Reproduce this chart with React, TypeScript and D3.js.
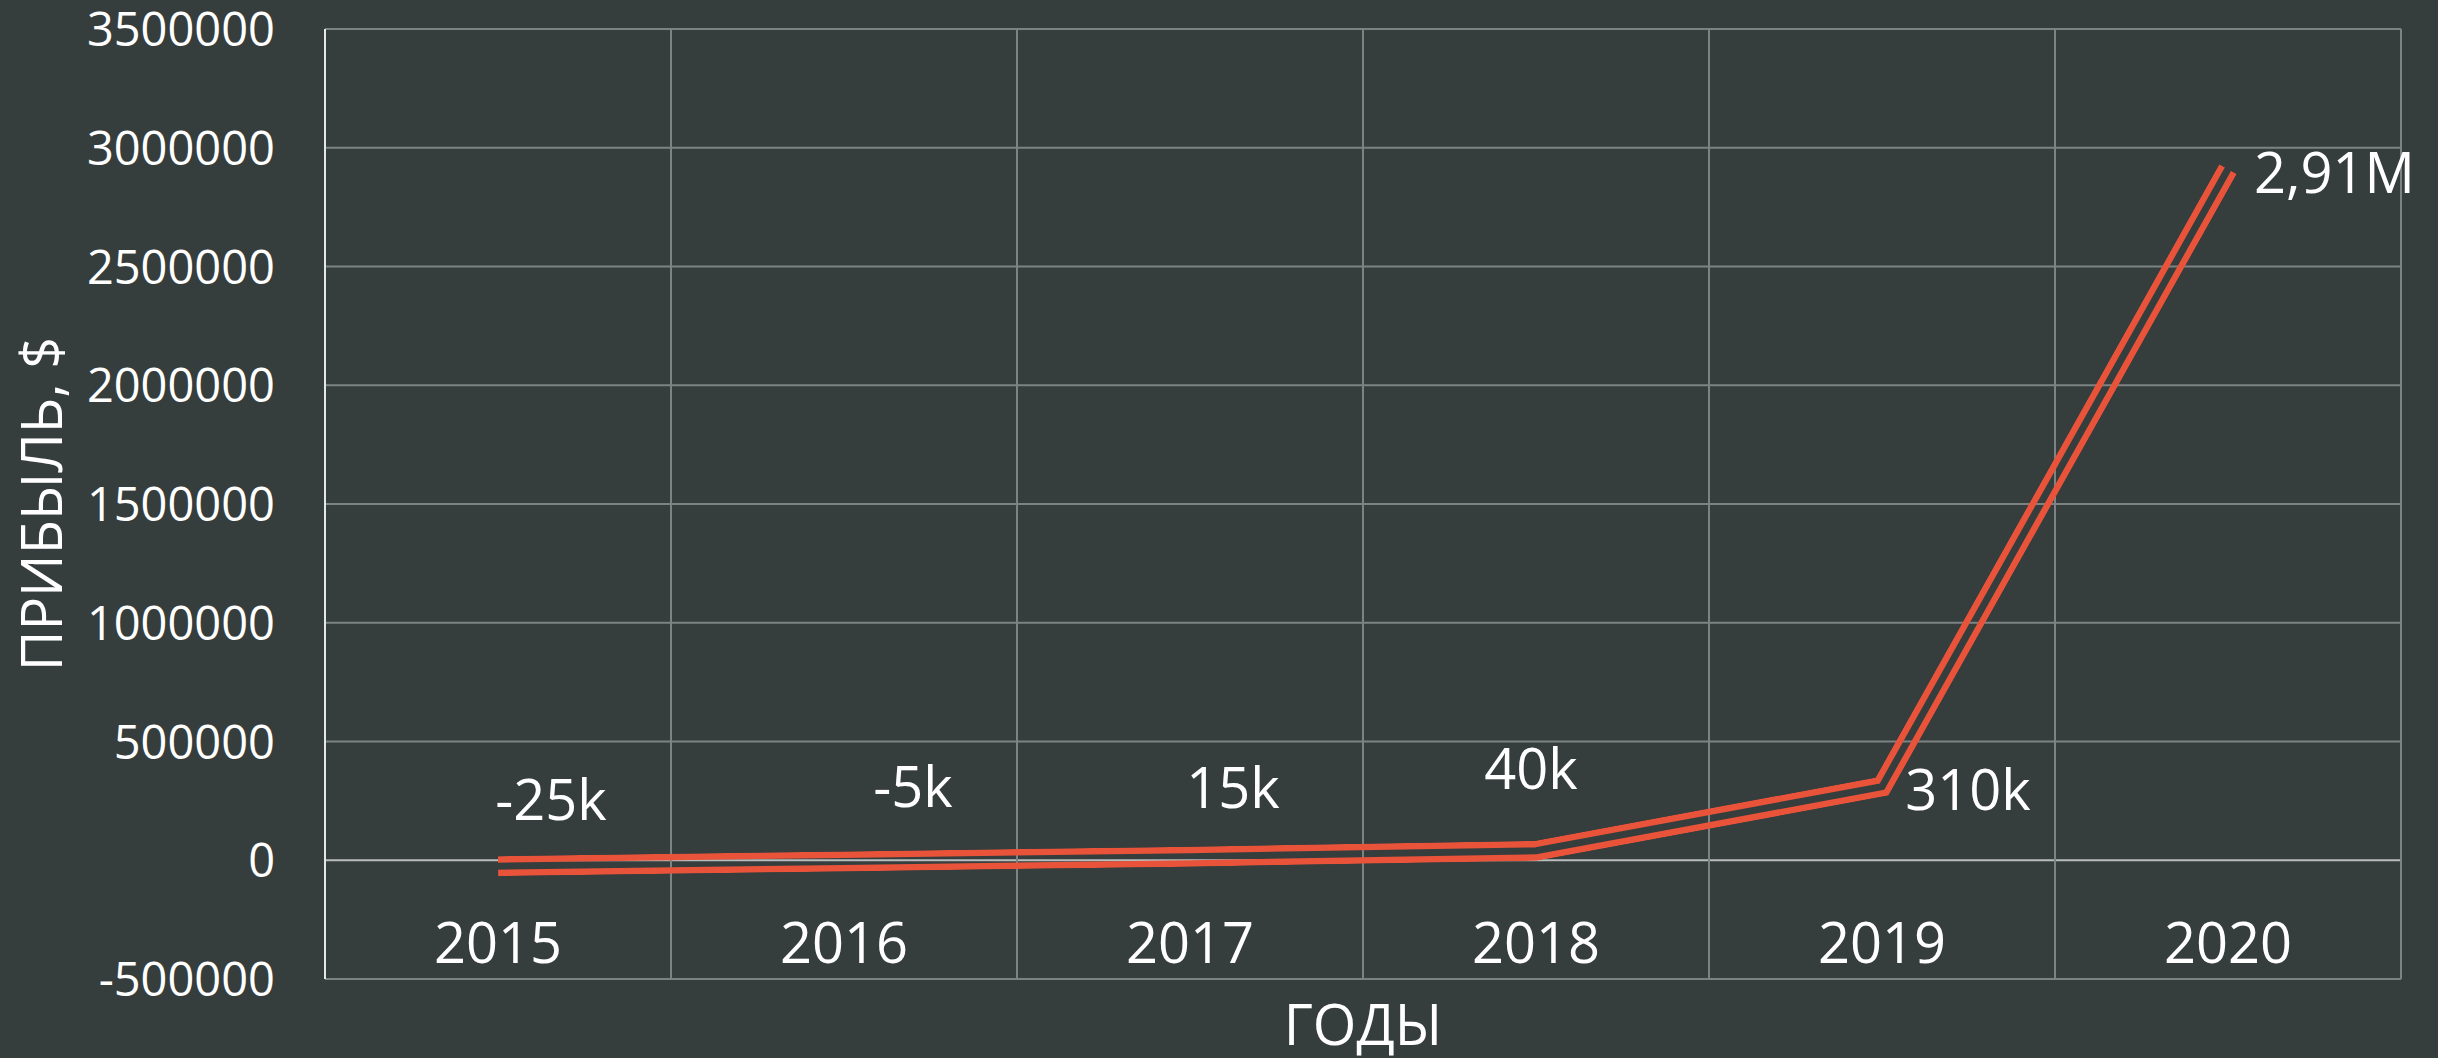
import React, { useEffect, useRef } from "react";
import * as d3 from "d3";

// chart data
const years = ["2015", "2016", "2017", "2018", "2019", "2020"];
const profit = [-25000, -5000, 15000, 40000, 310000, 2910000];
const valueLabels = ["-25k", "-5k", "15k", "40k", "310k", "2,91M"];
const yTicks = [-500000, 0, 500000, 1000000, 1500000, 2000000, 2500000, 3000000, 3500000];

// where each data label sits relative to its point (dx, dy to baseline, anchor)
const labelPlacement = [
  { dx: 53, dy: -46, anchor: "middle" },
  { dx: 69, dy: -54, anchor: "middle" },
  { dx: 43, dy: -49, anchor: "middle" },
  { dx: -5, dy: -62, anchor: "middle" },
  { dx: 86, dy: 23, anchor: "middle" },
  { dx: 26, dy: 24, anchor: "start" },
];

const W = 2438;
const H = 1058;
const BG = "#363d3d";
const LINE = "#e8533a";
const GRID = "#7d8383";
const FONT = "'Open Sans', 'Noto Sans', sans-serif";

function ProfitChart() {
  const svgRef = useRef<SVGSVGElement | null>(null);

  useEffect(() => {
    const svg = d3.select(svgRef.current);
    if (!svg.node()) return;
    svg.selectAll("*").remove();

    const margin = { top: 29, right: 37, bottom: 79, left: 325 };
    const x0 = margin.left;
    const x1 = W - margin.right;
    const y0 = margin.top;
    const y1 = H - margin.bottom;

    svg.append("rect").attr("width", W).attr("height", H).attr("fill", BG);

    const x = d3.scaleBand().domain(years).range([x0, x1]).padding(0);
    const y = d3.scaleLinear().domain([-500000, 3500000]).range([y1, y0]);
    const cx = (d: string) => (x(d) as number) + x.bandwidth() / 2;

    const g = svg.append("g");

    // horizontal gridlines
    g.selectAll("line.hgrid")
      .data(yTicks)
      .join("line")
      .attr("class", "hgrid")
      .attr("x1", x0)
      .attr("x2", x1)
      .attr("y1", (d) => y(d))
      .attr("y2", (d) => y(d))
      .attr("stroke", (d) => (d === 0 ? "#b9bdbd" : GRID))
      .attr("stroke-width", 2);

    // vertical gridlines at band edges
    const edges = years.map((d) => x(d) as number).slice(1).concat([x1]);
    g.selectAll("line.vgrid")
      .data(edges)
      .join("line")
      .attr("class", "vgrid")
      .attr("x1", (d) => d)
      .attr("x2", (d) => d)
      .attr("y1", y0)
      .attr("y2", y1)
      .attr("stroke", GRID)
      .attr("stroke-width", 2);

    // left axis line
    g.append("line")
      .attr("x1", x0)
      .attr("x2", x0)
      .attr("y1", y0)
      .attr("y2", y1)
      .attr("stroke", "#e6e6e6")
      .attr("stroke-width", 2);

    // y tick labels
    g.selectAll("text.ytick")
      .data(yTicks)
      .join("text")
      .attr("class", "ytick")
      .attr("x", 275)
      .attr("y", (d) => y(d) + 17)
      .attr("text-anchor", "end")
      .attr("fill", "#ffffff")
      .style("font-family", FONT)
      .style("font-size", "47px")
      .text((d) => String(d));

    // category labels
    g.selectAll("text.xtick")
      .data(years)
      .join("text")
      .attr("class", "xtick")
      .attr("x", (d) => cx(d))
      .attr("y", 963)
      .attr("text-anchor", "middle")
      .attr("fill", "#ffffff")
      .style("font-family", FONT)
      .style("font-size", "56px")
      .text((d) => d);

    // axis titles
    svg.append("text")
      .attr("x", (x0 + x1) / 2)
      .attr("y", 1045)
      .attr("text-anchor", "middle")
      .attr("fill", "#ffffff")
      .style("font-family", FONT)
      .style("font-size", "56px")
      .text("ГОДЫ");

    svg.append("text")
      .attr("transform", `translate(62,${(y0 + y1) / 2}) rotate(-90)`)
      .attr("text-anchor", "middle")
      .attr("fill", "#ffffff")
      .style("font-family", FONT)
      .style("font-size", "56px")
      .text("ПРИБЫЛЬ, $");

    // double (compound) line via mask
    const line = d3
      .line<number>()
      .x((_, i) => cx(years[i]))
      .y((d) => y(d))
      .curve(d3.curveLinear);
    const pathD = line(profit) as string;

    const mask = svg
      .append("defs")
      .append("mask")
      .attr("id", "dblMask")
      .attr("maskUnits", "userSpaceOnUse")
      .attr("x", 0)
      .attr("y", 0)
      .attr("width", W)
      .attr("height", H);
    mask.append("path")
      .attr("d", pathD)
      .attr("fill", "none")
      .attr("stroke", "#fff")
      .attr("stroke-width", 20)
      .attr("stroke-linejoin", "miter")
      .attr("stroke-linecap", "butt");
    mask.append("path")
      .attr("d", pathD)
      .attr("fill", "none")
      .attr("stroke", "#000")
      .attr("stroke-width", 7)
      .attr("stroke-linejoin", "miter")
      .attr("stroke-linecap", "square");

    svg.append("path")
      .attr("d", pathD)
      .attr("fill", "none")
      .attr("stroke", LINE)
      .attr("stroke-width", 20)
      .attr("stroke-linejoin", "miter")
      .attr("stroke-linecap", "butt")
      .attr("mask", "url(#dblMask)");

    // data labels
    svg.selectAll("text.vlabel")
      .data(profit)
      .join("text")
      .attr("class", "vlabel")
      .attr("x", (d, i) => cx(years[i]) + labelPlacement[i].dx)
      .attr("y", (d, i) => y(d) + labelPlacement[i].dy)
      .attr("text-anchor", (d, i) => labelPlacement[i].anchor)
      .attr("fill", "#ffffff")
      .style("font-family", FONT)
      .style("font-size", "56px")
      .text((d, i) => valueLabels[i]);
  }, []);

  return (
    <svg
      ref={svgRef}
      width={W}
      height={H}
      style={{ display: "block", position: "fixed", left: 0, top: 0 }}
    />
  );
}

export default function App() {
  return <ProfitChart />;
}
